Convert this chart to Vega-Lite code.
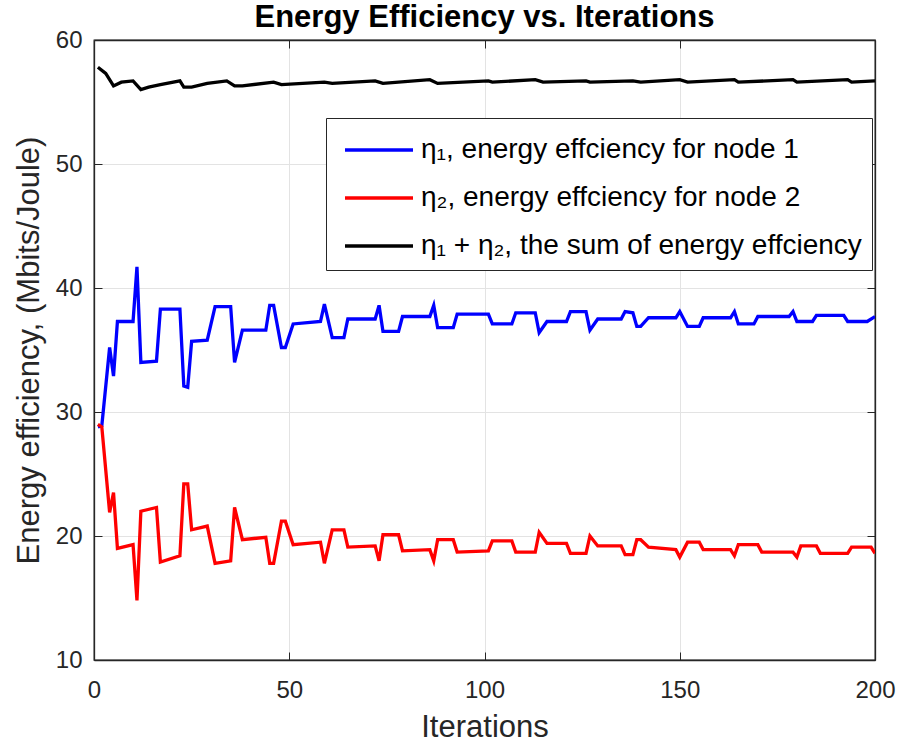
{
  "$schema": "https://vega.github.io/schema/vega-lite/v6.json",
  "width": 781,
  "height": 620,
  "autosize": {"type": "none"},
  "padding": {"left": 94, "top": 40, "right": 27, "bottom": 86},
  "background": "white",
  "title": {"text": "Energy Efficiency vs. Iterations", "fontSize": 31, "fontWeight": "bold", "font": "Liberation Sans", "color": "black", "offset": -6},
  "config": {
    "view": {"stroke": "#262626", "strokeWidth": 1.3},
    "axis": {
      "domainColor": "#262626", "tickColor": "#262626", "labelColor": "#262626", "titleColor": "#262626",
      "gridColor": "#e3e3e3", "tickSize": -8, "labelFont": "Liberation Sans", "labelFontSize": 24, "labelFlush": false,
      "titleFont": "Liberation Sans", "titleFontSize": 31, "titleFontWeight": "normal", "domainWidth": 1.3
    }
  },
  "data": {"values": [
    {"i":1,"v":28.8,"s":"n1"},{"i":2,"v":28.9,"s":"n1"},{"i":4,"v":35.2,"s":"n1"},{"i":5,"v":32.9,"s":"n1"},{"i":6,"v":37.3,"s":"n1"},{"i":10,"v":37.3,"s":"n1"},{"i":11,"v":41.7,"s":"n1"},{"i":12,"v":34.0,"s":"n1"},{"i":16,"v":34.1,"s":"n1"},{"i":17,"v":38.3,"s":"n1"},{"i":22,"v":38.3,"s":"n1"},{"i":23,"v":32.1,"s":"n1"},{"i":24,"v":32.0,"s":"n1"},{"i":25,"v":35.7,"s":"n1"},{"i":29,"v":35.8,"s":"n1"},{"i":31,"v":38.5,"s":"n1"},{"i":35,"v":38.5,"s":"n1"},{"i":36,"v":34.0,"s":"n1"},{"i":38,"v":36.6,"s":"n1"},{"i":44,"v":36.6,"s":"n1"},{"i":45,"v":38.6,"s":"n1"},{"i":46,"v":38.6,"s":"n1"},{"i":48,"v":35.2,"s":"n1"},{"i":49,"v":35.2,"s":"n1"},{"i":51,"v":37.1,"s":"n1"},{"i":58,"v":37.3,"s":"n1"},{"i":59,"v":38.7,"s":"n1"},{"i":61,"v":36.0,"s":"n1"},{"i":64,"v":36.0,"s":"n1"},{"i":65,"v":37.5,"s":"n1"},{"i":72,"v":37.5,"s":"n1"},{"i":73,"v":38.6,"s":"n1"},{"i":74,"v":36.5,"s":"n1"},{"i":78,"v":36.5,"s":"n1"},{"i":79,"v":37.7,"s":"n1"},{"i":86,"v":37.7,"s":"n1"},{"i":87,"v":38.6,"s":"n1"},{"i":88,"v":36.8,"s":"n1"},{"i":92,"v":36.8,"s":"n1"},{"i":93,"v":37.9,"s":"n1"},{"i":101,"v":37.9,"s":"n1"},{"i":102,"v":37.1,"s":"n1"},{"i":107,"v":37.1,"s":"n1"},{"i":108,"v":38.0,"s":"n1"},{"i":113,"v":38.0,"s":"n1"},{"i":114,"v":36.4,"s":"n1"},{"i":116,"v":37.3,"s":"n1"},{"i":121,"v":37.3,"s":"n1"},{"i":122,"v":38.1,"s":"n1"},{"i":126,"v":38.1,"s":"n1"},{"i":127,"v":36.6,"s":"n1"},{"i":129,"v":37.5,"s":"n1"},{"i":135,"v":37.5,"s":"n1"},{"i":136,"v":38.1,"s":"n1"},{"i":138,"v":38.0,"s":"n1"},{"i":139,"v":36.9,"s":"n1"},{"i":140,"v":36.9,"s":"n1"},{"i":142,"v":37.6,"s":"n1"},{"i":149,"v":37.6,"s":"n1"},{"i":150,"v":38.1,"s":"n1"},{"i":152,"v":36.9,"s":"n1"},{"i":155,"v":36.9,"s":"n1"},{"i":156,"v":37.6,"s":"n1"},{"i":163,"v":37.6,"s":"n1"},{"i":164,"v":38.1,"s":"n1"},{"i":165,"v":37.1,"s":"n1"},{"i":169,"v":37.1,"s":"n1"},{"i":170,"v":37.7,"s":"n1"},{"i":178,"v":37.7,"s":"n1"},{"i":179,"v":38.1,"s":"n1"},{"i":180,"v":37.3,"s":"n1"},{"i":184,"v":37.3,"s":"n1"},{"i":185,"v":37.8,"s":"n1"},{"i":192,"v":37.8,"s":"n1"},{"i":193,"v":37.3,"s":"n1"},{"i":198,"v":37.3,"s":"n1"},{"i":200,"v":37.7,"s":"n1"},
    {"i":1,"v":29.0,"s":"n2"},{"i":2,"v":28.8,"s":"n2"},{"i":4,"v":21.9,"s":"n2"},{"i":5,"v":23.5,"s":"n2"},{"i":6,"v":19.0,"s":"n2"},{"i":10,"v":19.3,"s":"n2"},{"i":11,"v":14.8,"s":"n2"},{"i":12,"v":22.0,"s":"n2"},{"i":16,"v":22.3,"s":"n2"},{"i":17,"v":17.9,"s":"n2"},{"i":22,"v":18.4,"s":"n2"},{"i":23,"v":24.2,"s":"n2"},{"i":24,"v":24.2,"s":"n2"},{"i":25,"v":20.5,"s":"n2"},{"i":29,"v":20.8,"s":"n2"},{"i":31,"v":17.8,"s":"n2"},{"i":35,"v":18.0,"s":"n2"},{"i":36,"v":22.3,"s":"n2"},{"i":38,"v":19.7,"s":"n2"},{"i":44,"v":19.9,"s":"n2"},{"i":45,"v":17.8,"s":"n2"},{"i":46,"v":17.8,"s":"n2"},{"i":48,"v":21.2,"s":"n2"},{"i":49,"v":21.2,"s":"n2"},{"i":51,"v":19.3,"s":"n2"},{"i":58,"v":19.5,"s":"n2"},{"i":59,"v":17.8,"s":"n2"},{"i":61,"v":20.5,"s":"n2"},{"i":64,"v":20.5,"s":"n2"},{"i":65,"v":19.1,"s":"n2"},{"i":72,"v":19.2,"s":"n2"},{"i":73,"v":18.0,"s":"n2"},{"i":74,"v":20.1,"s":"n2"},{"i":78,"v":20.1,"s":"n2"},{"i":79,"v":18.8,"s":"n2"},{"i":86,"v":18.9,"s":"n2"},{"i":87,"v":18.0,"s":"n2"},{"i":88,"v":19.7,"s":"n2"},{"i":92,"v":19.7,"s":"n2"},{"i":93,"v":18.7,"s":"n2"},{"i":101,"v":18.8,"s":"n2"},{"i":102,"v":19.6,"s":"n2"},{"i":107,"v":19.6,"s":"n2"},{"i":108,"v":18.7,"s":"n2"},{"i":113,"v":18.7,"s":"n2"},{"i":114,"v":20.3,"s":"n2"},{"i":116,"v":19.4,"s":"n2"},{"i":121,"v":19.4,"s":"n2"},{"i":122,"v":18.6,"s":"n2"},{"i":126,"v":18.6,"s":"n2"},{"i":127,"v":20.0,"s":"n2"},{"i":129,"v":19.2,"s":"n2"},{"i":135,"v":19.2,"s":"n2"},{"i":136,"v":18.5,"s":"n2"},{"i":138,"v":18.5,"s":"n2"},{"i":139,"v":19.7,"s":"n2"},{"i":140,"v":19.7,"s":"n2"},{"i":142,"v":19.1,"s":"n2"},{"i":149,"v":18.9,"s":"n2"},{"i":150,"v":18.3,"s":"n2"},{"i":152,"v":19.5,"s":"n2"},{"i":155,"v":19.5,"s":"n2"},{"i":156,"v":18.9,"s":"n2"},{"i":163,"v":18.9,"s":"n2"},{"i":164,"v":18.4,"s":"n2"},{"i":165,"v":19.3,"s":"n2"},{"i":170,"v":19.3,"s":"n2"},{"i":171,"v":18.7,"s":"n2"},{"i":179,"v":18.7,"s":"n2"},{"i":180,"v":18.3,"s":"n2"},{"i":181,"v":19.2,"s":"n2"},{"i":185,"v":19.2,"s":"n2"},{"i":186,"v":18.6,"s":"n2"},{"i":193,"v":18.6,"s":"n2"},{"i":194,"v":19.1,"s":"n2"},{"i":199,"v":19.1,"s":"n2"},{"i":200,"v":18.6,"s":"n2"},
    {"i":1,"v":57.8,"s":"sum"},{"i":3,"v":57.3,"s":"sum"},{"i":5,"v":56.3,"s":"sum"},{"i":7,"v":56.6,"s":"sum"},{"i":10,"v":56.7,"s":"sum"},{"i":12,"v":56.0,"s":"sum"},{"i":14,"v":56.2,"s":"sum"},{"i":17,"v":56.4,"s":"sum"},{"i":22,"v":56.7,"s":"sum"},{"i":23,"v":56.2,"s":"sum"},{"i":25,"v":56.2,"s":"sum"},{"i":29,"v":56.5,"s":"sum"},{"i":34,"v":56.7,"s":"sum"},{"i":36,"v":56.3,"s":"sum"},{"i":38,"v":56.3,"s":"sum"},{"i":46,"v":56.6,"s":"sum"},{"i":48,"v":56.4,"s":"sum"},{"i":59,"v":56.6,"s":"sum"},{"i":61,"v":56.5,"s":"sum"},{"i":72,"v":56.7,"s":"sum"},{"i":74,"v":56.5,"s":"sum"},{"i":86,"v":56.8,"s":"sum"},{"i":88,"v":56.5,"s":"sum"},{"i":101,"v":56.7,"s":"sum"},{"i":102,"v":56.6,"s":"sum"},{"i":113,"v":56.8,"s":"sum"},{"i":115,"v":56.6,"s":"sum"},{"i":126,"v":56.7,"s":"sum"},{"i":127,"v":56.6,"s":"sum"},{"i":138,"v":56.7,"s":"sum"},{"i":140,"v":56.6,"s":"sum"},{"i":150,"v":56.8,"s":"sum"},{"i":152,"v":56.6,"s":"sum"},{"i":164,"v":56.8,"s":"sum"},{"i":165,"v":56.6,"s":"sum"},{"i":179,"v":56.8,"s":"sum"},{"i":180,"v":56.6,"s":"sum"},{"i":193,"v":56.8,"s":"sum"},{"i":194,"v":56.6,"s":"sum"},{"i":200,"v":56.7,"s":"sum"}
  ]},
  "layer": [
    {
      "mark": {"type": "line", "strokeWidth": 3.3, "clip": true},
      "encoding": {
        "x": {"field": "i", "type": "quantitative", "scale": {"domain": [0, 200], "nice": false, "zero": false},
              "axis": {"title": "Iterations", "values": [0, 50, 100, 150, 200], "labelPadding": 26, "titlePadding": 10}},
        "y": {"field": "v", "type": "quantitative", "scale": {"domain": [10, 60], "nice": false, "zero": false},
              "axis": {"title": "Energy efficiency, (Mbits/Joule)", "values": [10, 20, 30, 40, 50, 60], "labelPadding": 20, "titlePadding": 10}},
        "color": {"field": "s", "type": "nominal",
          "scale": {"domain": ["n1", "n2", "sum"], "range": ["#0000ff", "#ff0000", "#000000"]},
          "legend": {
            "orient": "none", "legendX": 232, "legendY": 78, "title": null,
            "labelExpr": "datum.value == 'n1' ? 'η₁, energy effciency for node 1' : datum.value == 'n2' ? 'η₂, energy effciency for node 2' : 'η₁ + η₂, the sum of energy effciency'",
            "symbolType": "M-1,0H2.4", "symbolSize": 1600, "symbolStrokeWidth": 3.3,
            "labelFont": "Liberation Sans", "labelFontSize": 28, "labelColor": "black", "labelLimit": 700, "labelOffset": 34,
            "strokeColor": "#262626", "fillColor": "white", "padding": 10, "rowPadding": 12, "symbolOffset": 7
          }
        }
      }
    },
    {
      "mark": {"type": "line", "opacity": 0},
      "encoding": {
        "x": {"field": "i", "type": "quantitative", "scale": {"domain": [0, 200], "nice": false, "zero": false}, "axis": {"orient": "top", "title": null, "labels": false, "grid": false, "values": [0, 50, 100, 150, 200]}},
        "y": {"field": "v", "type": "quantitative", "scale": {"domain": [10, 60], "nice": false, "zero": false}, "axis": {"orient": "right", "title": null, "labels": false, "grid": false, "values": [10, 20, 30, 40, 50, 60]}},
        "detail": {"field": "s"}
      }
    }
  ],
  "resolve": {"axis": {"x": "independent", "y": "independent"}}
}
